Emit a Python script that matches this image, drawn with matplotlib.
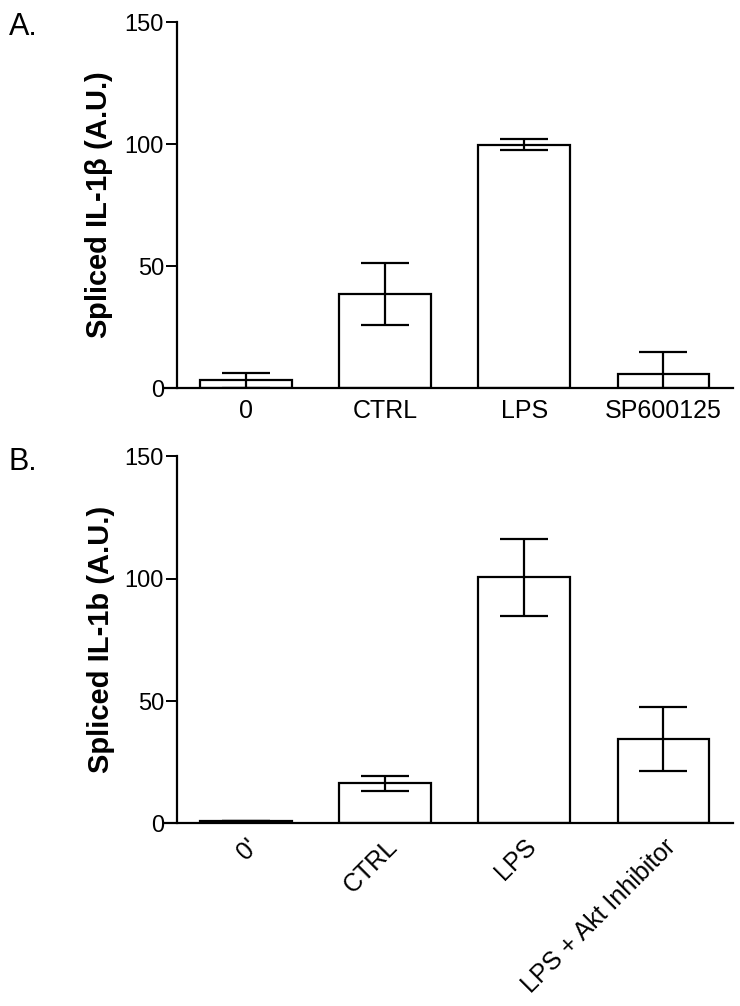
import matplotlib
matplotlib.use("Agg")
import matplotlib.pyplot as plt

# panel A
cats_a = ["0", "CTRL", "LPS", "SP600125"]
vals_a = [3.1, 38.5, 99.8, 5.7]
errs_a = [3.2, 12.8, 2.1, 9.0]

# panel B
cats_b = ["0'", "CTRL", "LPS", "LPS + Akt Inhibitor"]
vals_b = [1.0, 16.4, 100.6, 34.4]
errs_b = [0.0, 3.0, 15.7, 13.0]

yticks = [0, 50, 100, 150]

plt.rcParams['font.family'] = ['Liberation Sans', 'DejaVu Sans']

fig = plt.figure(figsize=(7.4, 10.06), dpi=100)


def draw_panel(ax, cats, vals, errs, ylabel, rotate):
    x = list(range(len(cats)))
    ax.bar(x, vals, width=0.66, color='white', edgecolor='black', linewidth=1.6, zorder=2)
    ax.errorbar(x, vals, yerr=errs, fmt='none', ecolor='black', elinewidth=1.6,
                capsize=17, capthick=1.6, zorder=3)
    ax.set_xlim(-0.59, 3.5)
    ax.set_ylim(0, 150)
    ax.spines['top'].set_visible(False)
    ax.spines['right'].set_visible(False)
    ax.spines['left'].set_position(('data', -0.5))
    ax.spines['left'].set_linewidth(1.6)
    ax.spines['bottom'].set_linewidth(1.6)
    ax.set_yticks(yticks)
    ax.tick_params(axis='y', length=8, width=1.4, labelsize=17, pad=1)
    ax.tick_params(axis='x', length=0, labelsize=18, pad=8)
    ax.set_xticks(x)
    if rotate:
        ax.set_xticklabels(cats, rotation=45, ha='right', rotation_mode='anchor')
    else:
        ax.set_xticklabels(cats)
    ax.set_ylabel(ylabel, fontsize=21, fontweight='bold', labelpad=7)


ax1 = fig.add_axes([0.2216, 0.6143, 0.769, 0.3638])
draw_panel(ax1, cats_a, vals_a, errs_a, r"Spliced IL-1$\mathregular{\beta}$ (A.U.)", False)

ax2 = fig.add_axes([0.2216, 0.1815, 0.769, 0.365])
draw_panel(ax2, cats_b, vals_b, errs_b, "Spliced IL-1b (A.U.)", True)

fig.text(0.012, 0.965, "A.", fontsize=22)
fig.text(0.012, 0.533, "B.", fontsize=22)

fig.savefig("out.png", dpi=100)
